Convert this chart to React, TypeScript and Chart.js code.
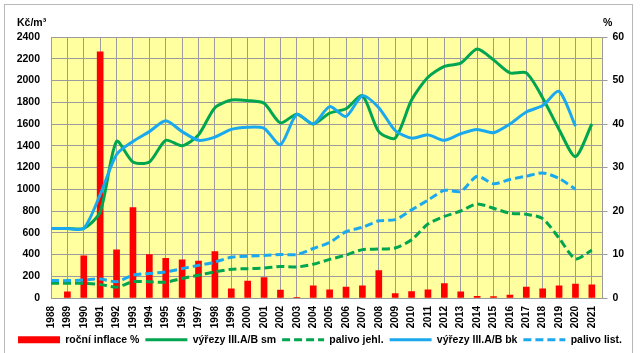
import React, { useEffect, useRef } from 'react';
import { Chart, registerables } from 'chart.js';

Chart.register(...registerables);

const years: number[] = [
  1988, 1989, 1990, 1991, 1992, 1993, 1994, 1995, 1996, 1997, 1998, 1999, 2000, 2001, 2002, 2003, 2004,
  2005, 2006, 2007, 2008, 2009, 2010, 2011, 2012, 2013, 2014, 2015, 2016, 2017, 2018, 2019, 2020, 2021,
];

const inflace: (number | null)[] = [
  null, 1.4, 9.7, 56.6, 11.1, 20.8, 10.0, 9.1, 8.8, 8.5, 10.7, 2.1, 3.9, 4.7, 1.8, 0.1, 2.8,
  1.9, 2.5, 2.8, 6.3, 1.0, 1.5, 1.9, 3.3, 1.4, 0.4, 0.3, 0.7, 2.5, 2.1, 2.8, 3.2, 3.0,
];

const vyrezySm: (number | null)[] = [
  640, 640, 640, 790, 1440, 1250, 1250, 1450, 1400, 1500, 1750, 1820, 1815, 1790, 1610, 1690, 1600,
  1700, 1740, 1860, 1530, 1470, 1820, 2030, 2130, 2160, 2290, 2190, 2070, 2070, 1840, 1550, 1300, 1600,
];

const palivoJehl: (number | null)[] = [
  135, 135, 135, 125, 100, 150, 150, 145, 180, 210, 240, 265, 270, 275, 290, 285, 310,
  355, 395, 445, 450, 460, 535, 680, 750, 800, 865, 825, 780, 770, 730, 550, 360, 440,
];

const vyrezyBk: (number | null)[] = [
  640, 640, 640, 950, 1320, 1440, 1530, 1630, 1530, 1450, 1480, 1550, 1570, 1560, 1410, 1690, 1600,
  1760, 1670, 1860, 1750, 1540, 1470, 1500, 1450, 1510, 1550, 1520, 1600, 1710, 1770, 1900, 1580, null,
];

const palivoList: (number | null)[] = [
  160, 160, 165, 175, 150, 210, 225, 240, 270, 300, 330, 375, 385, 390, 400, 400, 455,
  510, 610, 650, 710, 720, 810, 900, 990, 980, 1120, 1050, 1090, 1120, 1150, 1100, 1000, null,
];

const leftTitle = 'Kč/m³';
const rightTitle = '%';

const FONT = "'Liberation Sans', Arial, sans-serif";
const GREEN = '#00A54F';
const BLUE = '#1AA9EE';
const RED = '#FF0000';
const GRID = '#9C9C9C';

const toXY = (arr: (number | null)[]) => years.map((x, i) => ({ x, y: arr[i] }));

const decor = {
  id: 'decor',
  beforeDraw(chart: any) {
    const { ctx, chartArea: a } = chart;
    ctx.save();
    ctx.fillStyle = '#ffffff';
    ctx.fillRect(0, 0, chart.width, chart.height);
    ctx.fillStyle = '#FFFFA0';
    ctx.fillRect(a.left, a.top, a.right - a.left, a.bottom - a.top);
    ctx.strokeStyle = '#B8B8B8';
    ctx.lineWidth = 1;
    ctx.strokeRect(4.5, 4.5, 628, 400);
    ctx.restore();
  },
  afterDraw(chart: any) {
    const { ctx } = chart;
    ctx.save();
    ctx.fillStyle = '#000';
    ctx.font = `bold 10.5px ${FONT}`;
    ctx.textBaseline = 'middle';
    ctx.textAlign = 'left';
    ctx.fillText(leftTitle, 17, 23);
    ctx.fillText(rightTitle, 603, 23);
    ctx.restore();
  },
};

export default function App() {
  const ref = useRef<HTMLCanvasElement | null>(null);

  useEffect(() => {
    document.body.style.margin = '0';
    const canvas = ref.current;
    if (!canvas) return;
    const baseGen = (Chart as any).defaults.plugins.legend.labels.generateLabels;
    const chart = new Chart(canvas, {
      type: 'line',
      data: {
        datasets: [
          {
            type: 'bar',
            label: 'roční inflace %',
            data: toXY(inflace) as any,
            yAxisID: 'y2',
            backgroundColor: RED,
            borderWidth: 0,
            barThickness: 6,
            pointStyle: 'rect',
            order: 5,
          } as any,
          {
            label: 'výřezy III.A/B sm',
            data: toXY(vyrezySm) as any,
            yAxisID: 'y',
            borderColor: GREEN,
            backgroundColor: GREEN,
            borderWidth: 3,
            pointRadius: 0,
            tension: 0.25,
            pointStyle: 'line',
            order: 3,
          },
          {
            label: 'palivo jehl.',
            data: toXY(palivoJehl) as any,
            yAxisID: 'y',
            borderColor: GREEN,
            backgroundColor: GREEN,
            borderWidth: 3,
            borderDash: [8, 4],
            pointRadius: 0,
            tension: 0.25,
            pointStyle: 'line',
            order: 4,
          },
          {
            label: 'výřezy III.A/B bk',
            data: toXY(vyrezyBk) as any,
            yAxisID: 'y',
            borderColor: BLUE,
            backgroundColor: BLUE,
            borderWidth: 3,
            pointRadius: 0,
            tension: 0.25,
            pointStyle: 'line',
            order: 1,
          },
          {
            label: 'palivo list.',
            data: toXY(palivoList) as any,
            yAxisID: 'y',
            borderColor: BLUE,
            backgroundColor: BLUE,
            borderWidth: 3,
            borderDash: [8, 4],
            pointRadius: 0,
            tension: 0.25,
            pointStyle: 'line',
            order: 2,
          },
        ],
      },
      options: {
        responsive: false,
        animation: false,
        layout: { padding: { top: 37, left: 0, right: 0, bottom: -2 } },
        plugins: {
          tooltip: { enabled: false },
          legend: {
            position: 'bottom',
            labels: {
              usePointStyle: true,
              pointStyleWidth: 42,
              boxHeight: 7,
              padding: 6,
              color: '#000',
              font: { family: FONT, size: 10.5, weight: 'bold' },
              sort: (a: any, b: any) => a.datasetIndex - b.datasetIndex,
              generateLabels: (ch: any) =>
                baseGen(ch).map((item: any) => {
                  const ds = ch.data.datasets[item.datasetIndex];
                  return { ...item, lineDash: ds.borderDash || [], lineWidth: ds.type === 'bar' ? 0 : 3 };
                }),
            },
          },
        },
        scales: {
          x: {
            type: 'linear',
            min: 1988,
            max: 2021.65,
            offset: false,
            grid: { color: GRID, lineWidth: 1, drawTicks: false, offset: false },
            border: { display: true, color: GRID },
            ticks: {
              stepSize: 1,
              includeBounds: false,
              autoSkip: false,
              minRotation: 90,
              maxRotation: 90,
              padding: 8,
              color: '#000',
              font: { family: FONT, size: 10, weight: 'bold' },
              callback: (v: any) => String(v),
            },
            afterFit: (s: any) => {
              s.height = 30.5;
            },
          },
          y: {
            position: 'left',
            min: 0,
            max: 2400,
            grid: { color: GRID, lineWidth: 1, drawTicks: false },
            border: { display: true, color: GRID },
            ticks: {
              stepSize: 200,
              padding: 11,
              color: '#000',
              font: { family: FONT, size: 10.5, weight: 'bold' },
              callback: (v: any) => String(v),
            },
            afterFit: (s: any) => {
              s.width = 51;
            },
          },
          y2: {
            position: 'right',
            min: 0,
            max: 60,
            grid: { drawOnChartArea: false, color: GRID, tickLength: 5 },
            border: { display: true, color: GRID },
            ticks: {
              stepSize: 10,
              padding: 5,
              color: '#000',
              font: { family: FONT, size: 10.5, weight: 'bold' },
              callback: (v: any) => String(v),
            },
            afterFit: (s: any) => {
              s.width = 37.5;
            },
          },
        },
      } as any,
      plugins: [decor],
    });
    return () => chart.destroy();
  }, []);

  return <canvas ref={ref} width={640} height={353} style={{ display: 'block' }} />;
}
